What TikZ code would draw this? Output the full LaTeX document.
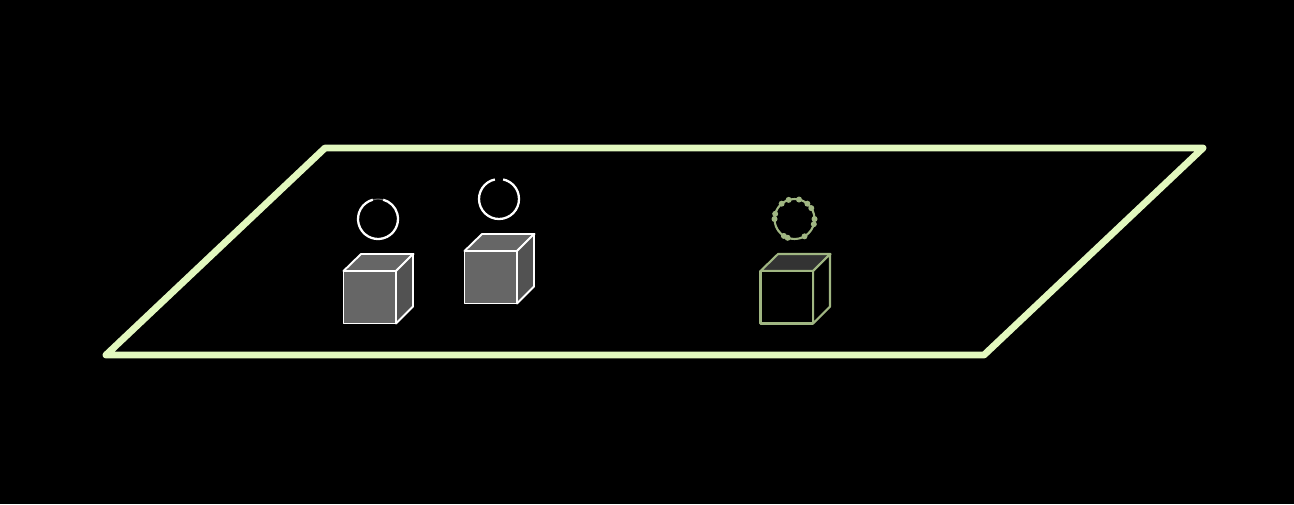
\documentclass[tikz,border=0pt]{standalone}
\usepackage{color}
\definecolor{plane1}{RGB}{226, 248, 190}
\definecolor{sage1}{RGB}{160, 182, 130}
\definecolor{cube1}{RGB}{102, 102, 102}
\definecolor{cube2}{RGB}{82, 82, 82}
\definecolor{cube3}{RGB}{51, 51, 51}
\usetikzlibrary{calc}
\tikzstyle{plane} = [draw=plane1, line width=1.95pt, line join=round, line cap=round]
\tikzstyle{whiteline} = [draw=white, line width=0.55pt, line join=round]
\tikzstyle{sageline} = [draw=sage1, line width=0.6pt, line join=round]
\newcommand{\cubebox}[6]{%
  \coordinate (#1) at (#2);
  \path[#3,fill=#6] (#1) -- ++(0.175,0.17) -- ++(0.525,0) -- ++(-0.175,-0.17) -- cycle;
  \path[#3,fill=#5] (#1) ++(0.525,0) -- ++(0.17,0.17) -- ++(0,-0.525) -- ++(-0.17,-0.17) -- cycle;
  \path[#3,fill=#4] (#1) rectangle ++(0.525,-0.525);
}
\begin{document}
\begin{tikzpicture}[x=1cm,y=1cm]
  \useasboundingbox[fill=black] (0,0) rectangle (12.94,5.04);

  \coordinate (a) at (1.06,1.49);
  \coordinate (b) at (9.84,1.49);
  \coordinate (c) at (12.03,3.56);
  \coordinate (d) at (3.25,3.56);
  \draw[plane] (a) -- (b) -- (c) -- (d) -- cycle;

  \cubebox{cube_a}{3.435,2.33}{whiteline}{cube1}{cube2}{cube1}
  \cubebox{cube_b}{4.645,2.53}{whiteline}{cube1}{cube2}{cube1}
  \cubebox{cube_c}{7.605,2.33}{sageline}{black}{black}{cube3}

  \coordinate (ring_a) at (3.78,2.85);
  \coordinate (ring_b) at (4.99,3.05);
  \coordinate (ring_c) at (7.945,2.85);
  \draw[draw=cube1,line width=0.3pt] (ring_a) ++(75:0.2) arc (75:105:0.2);
  \draw[whiteline,line width=0.65pt] (ring_a) ++(105:0.2) arc (105:435:0.2);
  \draw[whiteline,line width=0.65pt] (ring_b) ++(102:0.2) arc (102:438:0.2);
  \draw[sageline] (ring_c) circle (0.2);
  \foreach \a in {0,33,50,77,107,130,165,180,238,250,300,345} {
    \fill[sage1] ($(ring_c)+(\a:0.2)$) circle (0.03);
  }
\end{tikzpicture}
\end{document}
